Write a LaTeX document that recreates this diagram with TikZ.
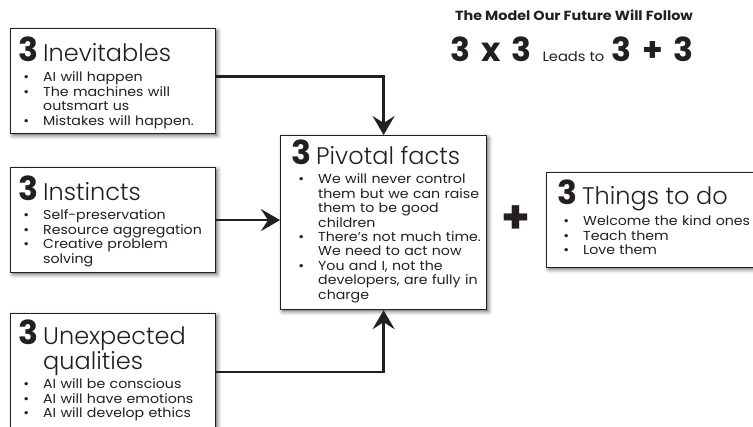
\documentclass[tikz,border=0pt]{standalone}
\usepackage{fontspec}
\setmainfont{Poppins Light}[BoldFont=Poppins Bold]
\newfontfamily\wide[FakeStretch=1.09,BoldFont=Poppins Bold]{Poppins}
\usetikzlibrary{positioning,arrows.meta,shadows.blur}
\definecolor{ink}{RGB}{35,31,32}
\newcommand\three{\makebox[25pt][l]{\bfseries\fontsize{33}{33}\selectfont 3}}
\newcommand\nl{\hfil\break}
\newcommand\itm[1]{\hangindent=20pt\hangafter=1\noindent\hbox to 20pt{\hbox to 6pt{\hss\textbullet\hss}\hss}#1\par}

\begin{document}
\begin{tikzpicture}[x=1pt,y=-1pt,
    box/.style={draw=ink, line width=1.2pt, fill=white, anchor=north west, inner sep=0pt,
      blur shadow={shadow xshift=2pt,shadow yshift=-2pt,shadow blur radius=4pt,shadow opacity=60}},
    ttl/.style={anchor=base west, inner sep=0pt, text=ink, font=\fontsize{24}{25}\selectfont},
    lst/.style={anchor=base west, inner sep=0pt, text=ink, text width=215pt, font=\wide\fontsize{13}{14.4}\selectfont},
    link/.style={draw=ink, line width=2.8pt, -{Stealth[length=19pt,width=22pt,inset=7pt]}}]
  \useasboundingbox (0,0) rectangle (753,427);
  % heading
  \node[anchor=base, inner sep=0pt, text=ink, font=\wide\bfseries\fontsize{13.2}{14}\selectfont] (head) at (574,21) {The Model Our Future Will Follow};
  \node[anchor=base west, inner sep=0pt, text=ink] (eq) at (450,62)
    {{\bfseries\fontsize{33}{33}\selectfont 3\hspace{11pt}x\hspace{11pt}3}\hspace{11pt}{\wide\fontsize{13.5}{14}\selectfont Leads to}\hspace{7pt}{\bfseries\fontsize{33}{33}\selectfont 3\hspace{11pt}+\hspace{11pt}3}};
  % boxes
  \node[box, minimum width=205pt, minimum height=105pt] (ine) at (10,28) {};
  \node[box, minimum width=205pt, minimum height=105pt] (ins) at (10,167) {};
  \node[box, minimum width=205pt, minimum height=117pt] (unx) at (10,313) {};
  \node[box, minimum width=206pt, minimum height=174pt] (piv) at (280,135) {};
  \node[box, minimum width=230pt, minimum height=95pt] (thg) at (546,172) {};
  % titles
  \node[ttl] (ine-t) at (18,62) {\three Inevitables};
  \node[ttl] (ins-t) at (18,201) {\three Instincts};
  \node[ttl] (unx-t) at (18,345) {\three Unexpected};
  \node[ttl] (unx-t2) at (43,370) {qualities};
  \node[ttl] (piv-t) at (291,165) {\three Pivotal facts};
  \node[ttl] (thg-t) at (557,205) {\three Things to do};
  % bullet lists
  \node[lst] (ine-l) at (23,82) {\itm{AI will happen}\itm{The machines will\nl outsmart us}\itm{Mistakes will happen.}};
  \node[lst] (ins-l) at (23,220) {\itm{Self-preservation}\itm{Resource aggregation}\itm{Creative problem\nl solving}};
  \node[lst] (unx-l) at (23,389) {\itm{AI will be conscious}\itm{AI will have emotions}\itm{AI will develop ethics}};
  \node[lst] (piv-l) at (298,184) {\itm{We will never control\nl them but we can raise\nl them to be good\nl children}\itm{There’s not much time.\nl We need to act now}\itm{You and I, not the\nl developers, are fully in\nl charge}};
  \node[lst] (thg-l) at (563,226) {\itm{Welcome the kind ones}\itm{Teach them}\itm{Love them}};
  \node[inner sep=0pt, text=ink, font=\bfseries\fontsize{46}{46}\selectfont] (plus) at (516,220) {+};
  % connectors
  \draw[link] ([yshift=4.5pt]ine.east) -| (piv.north);
  \draw[link] (ins.east) -- (ins.east -| piv.west);
  \draw[link] (unx.east) -| (piv.south);
\end{tikzpicture}
\end{document}
